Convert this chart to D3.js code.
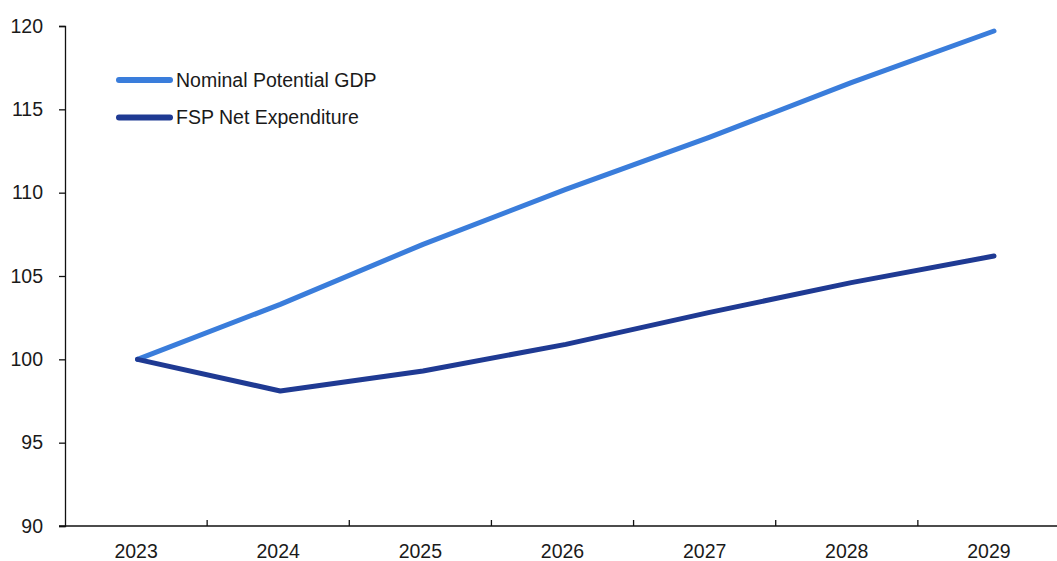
<!DOCTYPE html>
<html>
<head>
<meta charset="utf-8">
<script src="https://cdn.jsdelivr.net/npm/d3@7"></script>
<style>
  body { margin: 0; background: #fff; }
  text { font-family: "Liberation Sans", Arial, sans-serif; fill: #1a1a1a; }
</style>
</head>
<body>
<script>
const width = 1057;
const height = 561;

const years = ['2023', '2024', '2025', '2026', '2027', '2028', '2029'];
const gdp = [100, 103.3, 106.9, 110.2, 113.3, 116.6, 119.7];
const net_exp = [100, 98.1, 99.3, 100.9, 102.8, 104.6, 106.2];
const y_ticks = [90, 95, 100, 105, 110, 115, 120];
const series_names = ['Nominal Potential GDP', 'FSP Net Expenditure'];
const series_colors = ['#3a7ddb', '#1f3a93'];

const svg = d3.select('body')
    .append('svg')
    .attr('width', width)
    .attr('height', height);

const x = d3.scaleBand()
    .domain(years)
    .range([65, 1060]);
// points of the lines sit slightly right of the label centres
const x_pts = d3.scalePoint()
    .domain(years)
    .range([137.5, 994]);
const y = d3.scaleLinear()
    .domain([90, 120])
    .range([526, 26]);

// lines
const line = d3.line()
    .x((d, i) => x_pts(years[i]))
    .y(d => y(d));

[gdp, net_exp].forEach((s, k) => {
    svg.append('path')
        .attr('d', line(s))
        .attr('fill', 'none')
        .attr('stroke', series_colors[k])
        .attr('stroke-width', 5)
        .attr('stroke-linecap', 'round')
        .attr('stroke-linejoin', 'round');
});

// y axis
const y_axis = svg.append('g')
    .attr('transform', 'translate(65,0)')
    .call(d3.axisLeft(y).tickValues(y_ticks).tickSize(6).tickPadding(16));
y_axis.select('.domain').attr('stroke', '#111').attr('stroke-width', 1.3);
y_axis.selectAll('.tick line').attr('stroke', '#111').attr('stroke-width', 1.3);
y_axis.selectAll('text').style('font-size', '19.5px');

// x axis: ticks between categories pointing up
const x_axis = svg.append('g')
    .attr('transform', 'translate(0,526)');
x_axis.append('line')
    .attr('x1', 59).attr('x2', 1057)
    .attr('stroke', '#111').attr('stroke-width', 1.3);
x_axis.selectAll('line.tick')
    .data(years.slice(1))
    .enter()
    .append('line')
    .attr('class', 'tick')
    .attr('x1', d => x(d)).attr('x2', d => x(d))
    .attr('y1', 0).attr('y2', -6)
    .attr('stroke', '#111').attr('stroke-width', 1.3);
x_axis.selectAll('text')
    .data(years)
    .enter()
    .append('text')
    .attr('x', d => x(d) + x.bandwidth() / 2)
    .attr('y', 32)
    .attr('text-anchor', 'middle')
    .style('font-size', '19.5px')
    .text(d => d);

// legend
const legend = svg.append('g')
    .selectAll('g')
    .data(series_names)
    .enter()
    .append('g')
    .attr('transform', (d, i) => `translate(119,${80 + i * 37.5})`);
legend.append('line')
    .attr('x1', 0).attr('x2', 51)
    .attr('stroke', (d, i) => series_colors[i])
    .attr('stroke-width', 6)
    .attr('stroke-linecap', 'round');
legend.append('text')
    .attr('x', 57)
    .attr('dy', '0.35em')
    .style('font-size', '19.5px')
    .text(d => d);
</script>
</body>
</html>
